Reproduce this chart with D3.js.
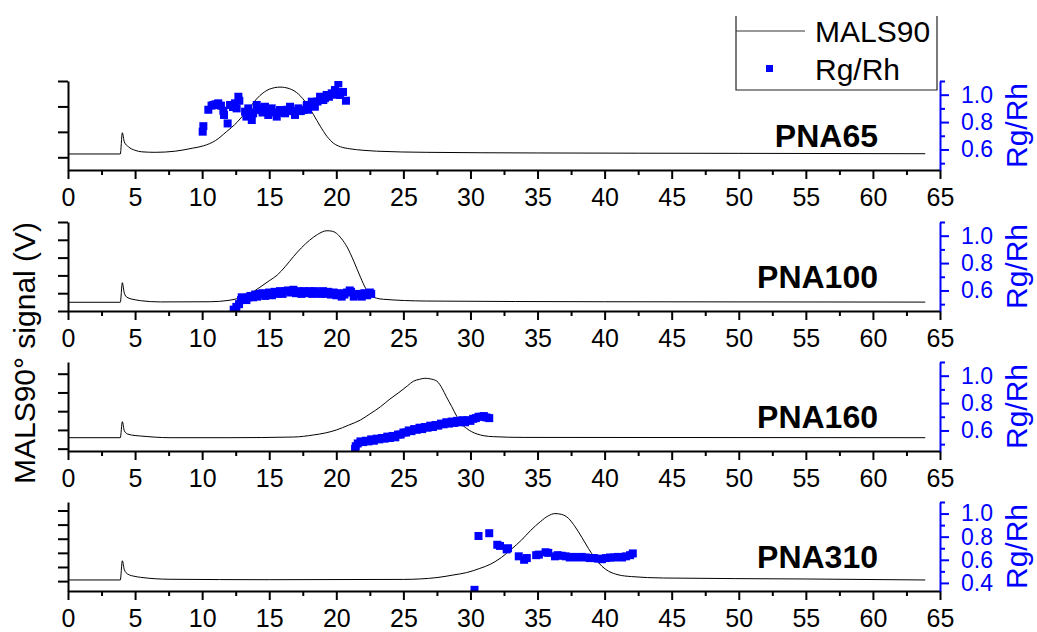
<!DOCTYPE html>
<html><head><meta charset="utf-8">
<script src="https://cdn.jsdelivr.net/npm/d3@7"></script>
<style>
html,body{margin:0;padding:0;background:#fff;}
svg{display:block;font-family:"Liberation Sans",Arial,sans-serif;}
</style></head><body>
<svg id="chart" width="1037" height="632"></svg>
<script>
// Elution time axis (min)
const xDomain = [0, 65];
const xMajorTicks = d3.range(0, 66, 5);
const xMinorTicks = d3.range(2.5, 65, 5);

// Sample names, one panel each
const samples = ["PNA65", "PNA100", "PNA160", "PNA310"];

// MALS 90° detector signal, [time (min), signal (V)]
const mals65 = [[0,0.126],[3.9,0.126],[4.05,0.293],[4.2,0.22],[4.5,0.183],[5.0,0.155],[5.5,0.143],[6.5,0.139],[8.0,0.148],[9.3,0.172],[10.1,0.19],[11.0,0.232],[11.8,0.30],[12.6,0.375],[13.3,0.46],[14.3,0.585],[15.0,0.635],[15.8,0.652],[16.5,0.64],[17.2,0.595],[17.8,0.52],[18.3,0.435],[18.8,0.345],[19.3,0.265],[19.8,0.21],[20.3,0.183],[21.0,0.167],[22.0,0.155],[23.0,0.148],[26.7,0.139],[35,0.134],[50,0.131],[63.9,0.128]];
const mals100 = [[0,0.049],[3.9,0.049],[4.05,0.159],[4.2,0.10],[4.4,0.077],[5.0,0.063],[5.4,0.058],[6.9,0.051],[10.6,0.052],[12.0,0.06],[12.6,0.069],[13.5,0.095],[14.3,0.133],[15.0,0.17],[15.6,0.202],[16.2,0.25],[16.8,0.305],[17.4,0.355],[18.0,0.397],[18.6,0.43],[19.3,0.451],[19.7,0.448],[20.0,0.437],[20.4,0.405],[20.8,0.36],[21.3,0.28],[21.8,0.19],[22.2,0.125],[22.5,0.09],[23.0,0.072],[23.5,0.066],[26.7,0.056],[40,0.052],[63.9,0.05]];
const mals160 = [[0,0.117],[3.9,0.117],[4.05,0.288],[4.2,0.19],[4.45,0.156],[5.0,0.14],[5.4,0.135],[7.6,0.117],[12,0.117],[16.8,0.124],[18.3,0.146],[19.2,0.168],[20.0,0.199],[20.9,0.25],[21.8,0.306],[22.5,0.37],[23.3,0.448],[24.0,0.53],[24.75,0.608],[25.3,0.67],[25.75,0.72],[26.2,0.74],[26.6,0.751],[27.0,0.745],[27.5,0.72],[27.9,0.64],[28.2,0.555],[28.6,0.45],[29.0,0.34],[29.3,0.27],[29.7,0.217],[30.1,0.18],[30.5,0.156],[31.0,0.138],[31.7,0.128],[34,0.12],[63.9,0.117]];
const mals310 = [[0,0.008],[3.9,0.008],[4.05,0.144],[4.2,0.08],[4.45,0.05],[5.0,0.033],[5.4,0.027],[7.6,0.013],[15,0.01],[25,0.012],[27.5,0.025],[28.7,0.043],[29.7,0.06],[30.7,0.09],[31.5,0.12],[32.3,0.167],[33.1,0.23],[33.8,0.29],[34.5,0.36],[35.2,0.42],[35.8,0.462],[36.3,0.478],[36.8,0.472],[37.3,0.445],[37.8,0.385],[38.3,0.31],[38.8,0.23],[39.3,0.16],[39.8,0.105],[40.3,0.07],[41.0,0.045],[42.0,0.032],[44.4,0.022],[55,0.015],[63.9,0.008]];

// Rg/Rh ratio, [time (min), Rg/Rh]
const rg65 = [[10.04,0.73],[10.09,0.77],[10.46,0.89],[10.7,0.92],[10.84,0.925],[11.0,0.93],[11.2,0.937],[11.4,0.92],[11.58,0.883],[11.63,0.852],[11.9,0.79],[12.08,0.925],[12.3,0.91],[12.45,0.937],[12.57,0.90],[12.7,0.985],[12.77,0.956],[13.2,0.876],[13.3,0.84],[13.44,0.90],[13.6,0.87],[13.7,0.815],[13.8,0.864],[14.07,0.925],[14.2,0.90],[14.3,0.888],[14.5,0.87],[14.68,0.912],[14.8,0.89],[14.93,0.852],[15.18,0.90],[15.35,0.87],[15.56,0.84],[15.8,0.888],[16.0,0.87],[16.18,0.864],[16.35,0.89],[16.55,0.912],[16.75,0.88],[16.92,0.852],[17.17,0.90],[17.35,0.88],[17.54,0.888],[17.8,0.925],[17.9,0.89],[18.17,0.949],[18.3,0.93],[18.4,0.912],[18.6,0.95],[18.79,0.985],[19.03,0.961],[19.15,0.975],[19.28,0.998],[19.45,0.985],[19.66,1.01],[19.9,1.034],[20.0,1.0],[20.15,1.083],[20.28,0.998],[20.5,1.02],[20.72,0.956]];
const rg100 = [[12.35,0.46],[12.55,0.48],[12.75,0.50],[12.9,0.53],[12.95,0.55],[13.1,0.54],[13.3,0.53],[13.45,0.55],[13.6,0.56],[13.8,0.55],[13.95,0.57],[14.1,0.555],[14.3,0.575],[14.5,0.58],[14.7,0.56],[14.85,0.57],[15.0,0.585],[15.2,0.565],[15.4,0.59],[15.6,0.575],[15.8,0.595],[16.0,0.575],[16.2,0.595],[16.4,0.60],[16.6,0.585],[16.8,0.605],[17.0,0.58],[17.2,0.595],[17.4,0.575],[17.6,0.595],[17.8,0.58],[18.0,0.595],[18.2,0.575],[18.4,0.595],[18.6,0.58],[18.8,0.575],[19.0,0.595],[19.2,0.575],[19.4,0.59],[19.6,0.57],[19.8,0.585],[20.0,0.565],[20.2,0.58],[20.4,0.555],[20.6,0.57],[20.8,0.585],[21.0,0.60],[21.1,0.59],[21.3,0.555],[21.5,0.57],[21.7,0.575],[21.9,0.555],[22.1,0.58],[22.3,0.565],[22.5,0.585],[22.6,0.575]];
const rg160 = [[21.4,0.465],[21.45,0.485],[21.6,0.505],[21.8,0.52],[22.0,0.515],[22.2,0.525],[22.4,0.52],[22.6,0.535],[22.8,0.525],[23.0,0.54],[23.2,0.535],[23.4,0.545],[23.6,0.54],[23.8,0.555],[24.0,0.545],[24.2,0.56],[24.4,0.55],[24.6,0.57],[24.8,0.57],[25.0,0.585],[25.2,0.585],[25.4,0.6],[25.6,0.595],[25.8,0.61],[26.0,0.605],[26.2,0.62],[26.4,0.61],[26.6,0.625],[26.8,0.62],[27.0,0.635],[27.2,0.625],[27.4,0.64],[27.6,0.635],[27.8,0.65],[28.0,0.645],[28.2,0.66],[28.4,0.65],[28.6,0.665],[28.8,0.655],[29.0,0.67],[29.2,0.66],[29.4,0.675],[29.6,0.66],[29.8,0.675],[30.0,0.67],[30.2,0.685],[30.4,0.69],[30.6,0.70],[30.8,0.70],[31.0,0.705],[31.2,0.695],[31.4,0.69]];
const rg310 = [[30.3,0.34],[30.6,0.806],[31.4,0.83],[32.0,0.73],[32.2,0.72],[32.7,0.69],[32.8,0.70],[33.6,0.63],[34.0,0.60],[34.2,0.615],[34.9,0.64],[35.1,0.645],[35.6,0.665],[35.8,0.66],[36.3,0.63],[36.5,0.64],[36.8,0.635],[37.1,0.63],[37.4,0.62],[37.7,0.625],[38.0,0.62],[38.3,0.625],[38.6,0.62],[38.9,0.615],[39.2,0.615],[39.5,0.61],[39.8,0.605],[40.1,0.615],[40.4,0.62],[40.7,0.62],[41.0,0.625],[41.3,0.62],[41.6,0.63],[41.9,0.64],[42.1,0.655]];

// Left (signal) axis ranges and ticks per panel
const leftDomains = [[0, 0.7], [0, 0.5], [-0.025, 0.925], [-0.07, 0.56]];
const leftTicks = [[0.1, 0.3, 0.5, 0.7], [0, 0.1, 0.2, 0.3, 0.4, 0.5], [0, 0.2, 0.4, 0.6, 0.8], [0, 0.1, 0.2, 0.3, 0.4, 0.5]];

// Right (Rg/Rh) axis ranges and ticks per panel
const rightDomains = [[0.45, 1.1], [0.45, 1.1], [0.45, 1.1], [0.33, 1.1]];
const rightMajorTicks = [[0.6, 0.8, 1.0], [0.6, 0.8, 1.0], [0.6, 0.8, 1.0], [0.4, 0.6, 0.8, 1.0]];
const rightMinorTicks = [[0.5, 0.7, 0.9, 1.1], [0.5, 0.7, 0.9, 1.1], [0.5, 0.7, 0.9, 1.1], [0.5, 0.7, 0.9, 1.1]];

const malsSeries = [mals65, mals100, mals160, mals310];
const rgSeries = [rg65, rg100, rg160, rg310];

// ---- layout ----
const FONT = '"Liberation Sans", Arial, sans-serif';
const BLUE = "#0000ff";
const panelBottoms = [170, 311, 451, 591];
const panelH = 89;
const plotLeft = 68, plotRight = 940;
const sq = 8;

const svg = d3.select("#chart");
const x = d3.scaleLinear().domain(xDomain).range([plotLeft, plotRight]);

function styleAxis(g, color, size) {
  g.attr("font-family", FONT).attr("font-size", size);
  g.selectAll("path.domain").attr("stroke", color).attr("stroke-width", 2);
  g.selectAll(".tick line").attr("stroke", color).attr("stroke-width", 2);
  g.selectAll(".tick text").attr("fill", color);
}

samples.forEach((name, i) => {
  const bottom = panelBottoms[i];
  const top = bottom - panelH;
  const yL = d3.scaleLinear().domain(leftDomains[i]).range([bottom, top]);
  const yR = d3.scaleLinear().domain(rightDomains[i]).range([bottom, top]);
  const g = svg.append("g");

  const clipId = "clip" + i;
  svg.append("clipPath").attr("id", clipId)
    .append("rect").attr("x", plotLeft).attr("y", top)
    .attr("width", plotRight - plotLeft).attr("height", panelH);

  const plot = g.append("g").attr("clip-path", `url(#${clipId})`);

  // MALS trace
  plot.append("path").datum(malsSeries[i])
    .attr("fill", "none").attr("stroke", "#000").attr("stroke-width", 1)
    .attr("d", d3.line().x(d => x(d[0])).y(d => yL(d[1])).curve(d3.curveMonotoneX));

  // Rg/Rh squares
  plot.selectAll("rect.rg").data(rgSeries[i]).join("rect")
    .attr("class", "rg")
    .attr("x", d => x(d[0]) - sq / 2).attr("y", d => yR(d[1]) - sq / 2)
    .attr("width", sq).attr("height", sq).attr("fill", BLUE);

  // sample label
  g.append("text").attr("x", 878).attr("y", bottom - 23)
    .attr("text-anchor", "end").attr("font-family", FONT)
    .attr("font-size", 32).attr("font-weight", "bold").attr("fill", "#000")
    .text(name);

  // left axis (unlabelled ticks)
  const la = g.append("g").attr("transform", `translate(${plotLeft},0)`)
    .call(d3.axisLeft(yL).tickValues(leftTicks[i]).tickSize(10).tickSizeOuter(0).tickFormat(""));
  styleAxis(la, "#000", 24);

  // bottom axis: minor then major
  const bmin = g.append("g").attr("transform", `translate(0,${bottom})`)
    .call(d3.axisBottom(x).tickValues(xMinorTicks).tickSize(5).tickSizeOuter(0).tickFormat(""));
  bmin.select(".domain").remove();
  styleAxis(bmin, "#000", 25);
  const bmaj = g.append("g").attr("transform", `translate(0,${bottom})`)
    .call(d3.axisBottom(x).tickValues(xMajorTicks).tickSize(9).tickPadding(9).tickSizeOuter(0).tickFormat(d3.format("d")));
  styleAxis(bmaj, "#000", 25);

  // right axis: minor then major, blue
  const rmin = g.append("g").attr("transform", `translate(${plotRight},0)`)
    .call(d3.axisRight(yR).tickValues(rightMinorTicks[i]).tickSize(5).tickSizeOuter(0).tickFormat(""));
  rmin.select(".domain").remove();
  styleAxis(rmin, BLUE, 23);
  const rmaj = g.append("g").attr("transform", `translate(${plotRight},0)`)
    .call(d3.axisRight(yR).tickValues(rightMajorTicks[i]).tickSize(9).tickPadding(12).tickSizeOuter(0).tickFormat(d3.format(".1f")));
  styleAxis(rmaj, BLUE, 23);

  // right axis title
  g.append("text")
    .attr("transform", `translate(1027,${(top + bottom) / 2}) rotate(-90)`)
    .attr("text-anchor", "middle").attr("font-family", FONT)
    .attr("font-size", 30).attr("fill", BLUE).text("Rg/Rh");
});

// shared left title
svg.append("text")
  .attr("transform", "translate(35,353) rotate(-90)")
  .attr("text-anchor", "middle").attr("font-family", FONT)
  .attr("font-size", 30).attr("fill", "#000").text("MALS90° signal (V)");

// legend
const leg = svg.append("g");
leg.append("path").attr("d", "M736,16V90H937V16")
  .attr("fill", "none").attr("stroke", "#222").attr("stroke-width", 1.2);
leg.append("line").attr("x1", 736).attr("x2", 805).attr("y1", 31).attr("y2", 31)
  .attr("stroke", "#333").attr("stroke-width", 1);
leg.append("text").attr("x", 815).attr("y", 42).attr("font-family", FONT)
  .attr("font-size", 30).attr("fill", "#000").text("MALS90");
leg.append("rect").attr("x", 770 - sq / 2).attr("y", 69 - sq / 2)
  .attr("width", 7).attr("height", 7).attr("fill", BLUE);
leg.append("text").attr("x", 815).attr("y", 80).attr("font-family", FONT)
  .attr("font-size", 30).attr("fill", "#000").text("Rg/Rh");
</script>
</body></html>
